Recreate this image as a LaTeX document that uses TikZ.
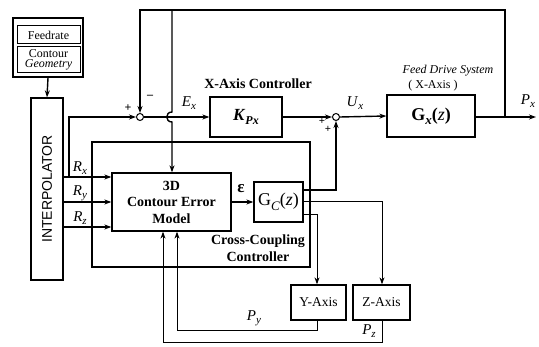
\documentclass[tikz,border=0pt]{standalone}
\usepackage{fontspec}
\setmainfont{Liberation Serif}
\newfontfamily\sansf{Liberation Sans}
\usetikzlibrary{arrows.meta}
\newcommand\subsz{\fontsize{11}{11}\selectfont}
\newcommand\lbl[2]{\textit{#1}\raisebox{-0.45ex}{\subsz\textit{#2}}}
\begin{document}
\begin{tikzpicture}[x=1pt,y=-1pt,
  sig/.style={line width=1.4pt},
  thin sig/.style={line width=1pt},
  arr/.style={-{Stealth[length=7pt,width=5pt]}},
  sumj/.style={draw,circle,line width=1pt,minimum size=7pt,inner sep=0pt,fill=white},
  bt/.style={font=\bfseries\fontsize{14}{16.5}\selectfont,align=center},
  rt/.style={font=\fontsize{13.5}{15}\selectfont,align=center},
  mt/.style={font=\fontsize{15}{15}\selectfont}]
\useasboundingbox (0,0) rectangle (539,347);
% Feedrate / Contour geometry
\node[draw,line width=1.4pt,minimum width=70pt,minimum height=59pt] (fg) at (48,47.5) {};
\node[draw,line width=1pt,minimum width=63pt,minimum height=18pt,align=center,font=\fontsize{12}{12}\selectfont] (fr) at (48.5,35) {Feedrate};
\node[draw,line width=1pt,minimum width=63pt,minimum height=26pt,align=center,font=\fontsize{12}{10.5}\selectfont,inner sep=1pt] (cg) at (48.5,60) {Contour\\\textit{Geometry}};
% Interpolator
\node[draw,line width=1.3pt,minimum width=32pt,minimum height=182pt,font=\sansf\fontsize{14}{14}\selectfont] (ip) at (47,189) {\rotatebox{90}{INTERPOLATOR}};
\draw[sig,arr] (fg.south) -- (ip.north);
% junctions and blocks
\node[sumj] (s1) at (140,117) {};
\node[draw,line width=1.3pt,minimum width=72pt,minimum height=40pt,font=\fontsize{17}{17}\selectfont] (kp) at (246,117) {\textbf{\textit{K}}\raisebox{-0.5ex}{\fontsize{12}{12}\selectfont\textbf{\textit{Px}}}};
\node[sumj] (s2) at (336,117) {};
\node[draw,line width=1.3pt,minimum width=88pt,minimum height=42pt,font=\fontsize{18}{18}\selectfont] (gx) at (431,116) {\textbf{G}\raisebox{-0.5ex}{\fontsize{13}{13}\selectfont\textbf{\textit{x}}}\textbf{(}\textit{z}\textbf{)}};
\node[draw,line width=1.3pt,minimum width=218pt,minimum height=125pt] (cc) at (201,204.5) {};
\node[draw,line width=1.3pt,minimum width=119pt,minimum height=58pt,bt,inner sep=1pt] (em) at (171.5,202) {3D\\Contour Error\\Model};
\node[draw,line width=1.3pt,minimum width=49pt,minimum height=40pt,font=\fontsize{18}{18}\selectfont,inner sep=1pt] (gc) at (278.5,202) {G\raisebox{-0.6ex}{\fontsize{13}{13}\selectfont\textit{C}}(\textit{z})};
\node[draw,line width=1.3pt,minimum width=55pt,minimum height=35pt,rt] (ya) at (318.5,302.5) {Y-Axis};
\node[draw,line width=1.3pt,minimum width=57pt,minimum height=35pt,rt] (za) at (381.5,302.5) {Z-Axis};
% labels
\node[bt] at (258,84) {X-Axis Controller};
\node[font=\itshape\fontsize{12}{12}\selectfont] at (448,71) {Feed Drive System};
\node[font=\fontsize{12}{12}\selectfont] at (433,86) {( X-Axis )};
\node[bt] at (258,241) {Cross-Coupling};
\node[bt] at (258,257) {Controller};
\node[font=\bfseries\fontsize{12}{12}\selectfont] at (128,108) {+};
\node[font=\bfseries\fontsize{12}{12}\selectfont] at (150,97) {\textendash};
\node[font=\bfseries\fontsize{11}{12}\selectfont] at (322,121) {+};
\node[font=\bfseries\fontsize{11}{12}\selectfont] at (328,129) {+};
\node[mt] at (189,103) {\lbl{E}{x}};
\node[mt] at (355,103) {\lbl{U}{x}};
\node[mt] at (528,101) {\lbl{P}{x}};
\node[mt] at (80,168) {\lbl{R}{x}};
\node[mt] at (80,193) {\lbl{R}{y}};
\node[mt] at (80,218) {\lbl{R}{z}};
\node[mt] at (254,318) {\lbl{P}{y}};
\node[mt] at (369,331) {\lbl{P}{z}};
\node[font=\bfseries\fontsize{17}{17}\selectfont] at (241,189) {ε};
% connectors
\coordinate (rx0) at (63,177);
\coordinate (ry0) at (63,202);
\coordinate (rz0) at (63,227);
\coordinate (rb) at (69,177);
\draw[sig,arr] (ip.east |- rx0) -- (em.west |- rx0);
\draw[sig,arr] (ip.east |- ry0) -- (em.west |- ry0);
\draw[sig,arr] (ip.east |- rz0) -- (em.west |- rz0);
\draw[sig,arr] (rb) -- (69,117) -- (s1.west);
\draw[sig,arr] (s1.east) -- (kp.west);
\draw[sig,arr] (kp.east) -- (s2.west);
\draw[sig,arr] (s2.east) -- (gx.west);
\coordinate (px) at (536,117);
\coordinate (pb) at (505,117);
\draw[sig,arr] (gx.east |- px) -- (px);
\draw[sig,arr] (pb) -- (505,10) -- (140,10) -- (s1.north);
\draw[sig,arr] (172,10) -- (172,112) .. controls (165,112) and (165,122) .. (172,122) -- (em.north -| 172,0);
\draw[sig,arr] (em.east) -- (gc.west);
\draw[sig,arr] (gc.east |- 0,190) -- (336,190) -- (s2.south);
\draw[thin sig,arr] (gc.east |- 0,202) -- (382,202) -- (za.north -| 382,0);
\draw[thin sig,arr] (gc.east |- 0,215) -- (317,215) -- (ya.north -| 317,0);
\draw[thin sig,arr] (ya.south -| 317,0) -- (317,331) -- (177,331) -- (em.south -| 177,0);
\draw[thin sig,arr] (za.south -| 382,0) -- (382,343) -- (163,343) -- (em.south -| 163,0);
\end{tikzpicture}
\end{document}
